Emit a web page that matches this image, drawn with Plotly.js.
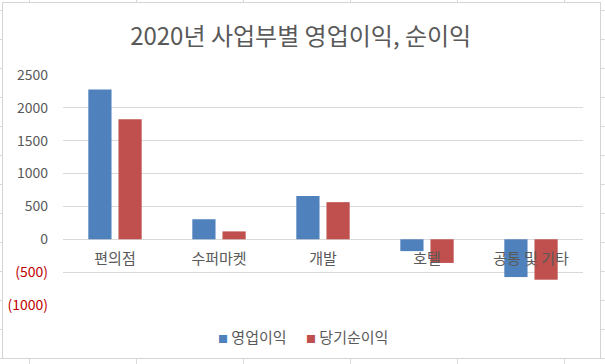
<!DOCTYPE html>
<html><head><meta charset="utf-8">
<script src="https://cdn.plot.ly/plotly-3.0.1.min.js"></script>
<style>
html,body{margin:0;padding:0;width:605px;height:364px;overflow:hidden;background:#fff;}
#bg{position:absolute;left:0;top:0;width:605px;height:364px;
 background-image:
  repeating-linear-gradient(to right, transparent 0, transparent 29px, #dadada 29px, #dadada 30px, transparent 30px, transparent 107px),
  repeating-linear-gradient(to bottom, transparent 0, transparent 10px, #dadada 10px, #dadada 11px, transparent 11px, transparent 29px);}
#box{position:absolute;left:2px;top:2px;width:597px;height:355px;background:#fff;border:1px solid #d4d4d4;}
#chart{position:absolute;left:0;top:0;width:605px;height:364px;}
</style></head>
<body>
<div id="bg"></div><div id="box"></div>
<div id="chart"></div>
<script>
const categories = ['편의점', '수퍼마켓', '개발', '호텔', '공통 및 기타'];
const operatingProfit = [2280, 305, 660, -180, -575];
const netProfit = [1825, 120, 565, -360, -615];
const seriesNames = ['영업이익', '당기순이익'];
const seriesColors = ['#4F81BD', '#C0504D'];
const yTickVals = [2500, 2000, 1500, 1000, 500, 0, -500, -1000];
const yTickText = ['2500', '2000', '1500', '1000', '500', '0',
  '<span style="color:#C00000">(500)</span>', '<span style="color:#C00000">(1000)</span>'];

const font = 'Noto Sans CJK KR, Noto Sans, sans-serif';
const yMin = -1000, yMax = 2500;
const data = [
  {type:'bar', name:seriesNames[0], x:categories, y:operatingProfit, marker:{color:seriesColors[0]}, showlegend:false},
  {type:'bar', name:seriesNames[1], x:categories, y:netProfit, marker:{color:seriesColors[1]}, showlegend:false}
];
const legendX = [0.294, 0.463];
const layout = {
  width:605, height:364,
  paper_bgcolor:'rgba(0,0,0,0)', plot_bgcolor:'rgba(0,0,0,0)',
  margin:{l:63, r:22, t:75, b:59},
  font:{family:font, color:'#595959', size:13},
  title:{text:'2020년 사업부별 영업이익, 순이익', x:0.497, xanchor:'center', y:0.9, yanchor:'middle',
         font:{family:font, size:24, color:'#595959'}},
  barmode:'group', bargap:0.42, bargroupgap:0.23,
  xaxis:{anchor:'free', position:(0 - yMin)/(yMax - yMin), showline:false, showgrid:false, zeroline:false,
         ticks:'', tickfont:{family:font, size:15, color:'#595959'}, ticklabelstandoff:9, fixedrange:true},
  yaxis:{range:[yMin, yMax], tickvals:yTickVals, ticktext:yTickText, showgrid:true, gridcolor:'#d9d9d9', gridwidth:1,
         zeroline:true, zerolinecolor:'#d9d9d9', zerolinewidth:1, showline:false, ticks:'',
         tickfont:{family:font, size:14, color:'#595959'}, ticklabelstandoff:14, fixedrange:true},
  showlegend:false,
  annotations: seriesNames.map((n, i) => ({
    xref:'paper', yref:'paper', x:legendX[i], y:-0.139, xanchor:'left', yanchor:'middle', showarrow:false,
    text:'<span style="color:' + seriesColors[i] + ';font-size:10px">■</span> ' + n,
    font:{family:font, size:15, color:'#595959'}
  }))
};
Plotly.newPlot('chart', data, layout, {displayModeBar:false, staticPlot:true});
</script>
</body></html>
